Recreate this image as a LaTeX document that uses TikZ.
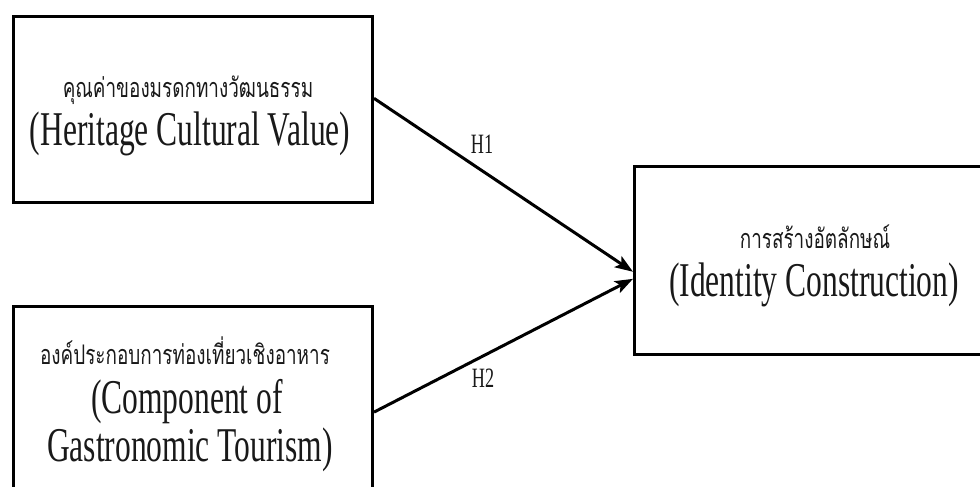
\documentclass[tikz,border=0pt]{standalone}
\usepackage{fontspec}
\usetikzlibrary{arrows.meta,calc}
\setmainfont{Liberation Serif}
\newfontfamily\enfont[FakeStretch=0.65]{Liberation Serif}
\newfontfamily\thaifont[Script=Thai,FakeStretch=0.7]{Loma}
\tikzset{
  varbox/.style={draw=black, line width=3pt, fill=none, inner sep=0pt},
  entext/.style={anchor=base, inner sep=0pt, text height=33pt, text depth=9pt, text=black!90, font=\enfont\fontsize{48.5}{52}\selectfont},
  thtext/.style={anchor=base, inner sep=0pt, text height=20pt, text depth=3pt, text=black!90, font=\thaifont\fontsize{27}{30}\selectfont},
  hlabel/.style={anchor=base, inner sep=0pt, text=black!90, font=\enfont\fontsize{28}{30}\selectfont},
  path/.style={draw=black, line width=3pt, -{Stealth[length=18pt,width=13pt,inset=4pt]}}
}
\begin{document}
\begin{tikzpicture}[x=1pt,y=-1pt]
  \useasboundingbox (0,0) rectangle (980,487);
  \clip (0,0) rectangle (980,487);
  % variable boxes
  \coordinate (b1nw) at (11.5,15);
  \coordinate (b2nw) at (11.5,305);
  \coordinate (b3nw) at (633,165);
  \node[varbox, minimum width=359.5pt, minimum height=186pt, anchor=north west] (b1) at (b1nw) {};
  \node[varbox, minimum width=359.5pt, minimum height=195pt, anchor=north west] (b2) at (b2nw) {};
  \node[varbox, minimum width=367pt, minimum height=188pt, anchor=north west] (b3) at (b3nw) {};
  % labels inside the boxes
  \node[thtext] (t1) at (188,97) {คุณค่าของมรดกทางวัฒนธรรม};
  \node[entext] (e1) at (190,145) {(Heritage Cultural Value)};
  \node[thtext] (t2) at (185,364) {องค์ประกอบการท่องเที่ยวเชิงอาหาร};
  \node[entext] (e2a) at (187,413) {(Component of};
  \node[entext] (e2b) at (190,461) {Gastronomic Tourism)};
  \node[thtext] (t3) at (815,248) {การสร้างอัตลักษณ์};
  \node[entext] (e3) at (814,296) {(Identity Construction)};
  % hypothesised paths
  \coordinate (s1) at ($(b1.north east)!0.441!(b1.south east)$);
  \coordinate (s2) at ($(b2.north east)!0.541!(b2.south east)$);
  \coordinate (d1) at ($(b3.north west)!0.559!(b3.south west)$);
  \coordinate (d2) at ($(b3.north west)!0.596!(b3.south west)$);
  \draw[path] (s1) -- (d1);
  \draw[path] (s2) -- (d2);
  \node[hlabel] (h1) at (482,153) {H1};
  \node[hlabel] (h2) at (483,387) {H2};
\end{tikzpicture}
\end{document}
